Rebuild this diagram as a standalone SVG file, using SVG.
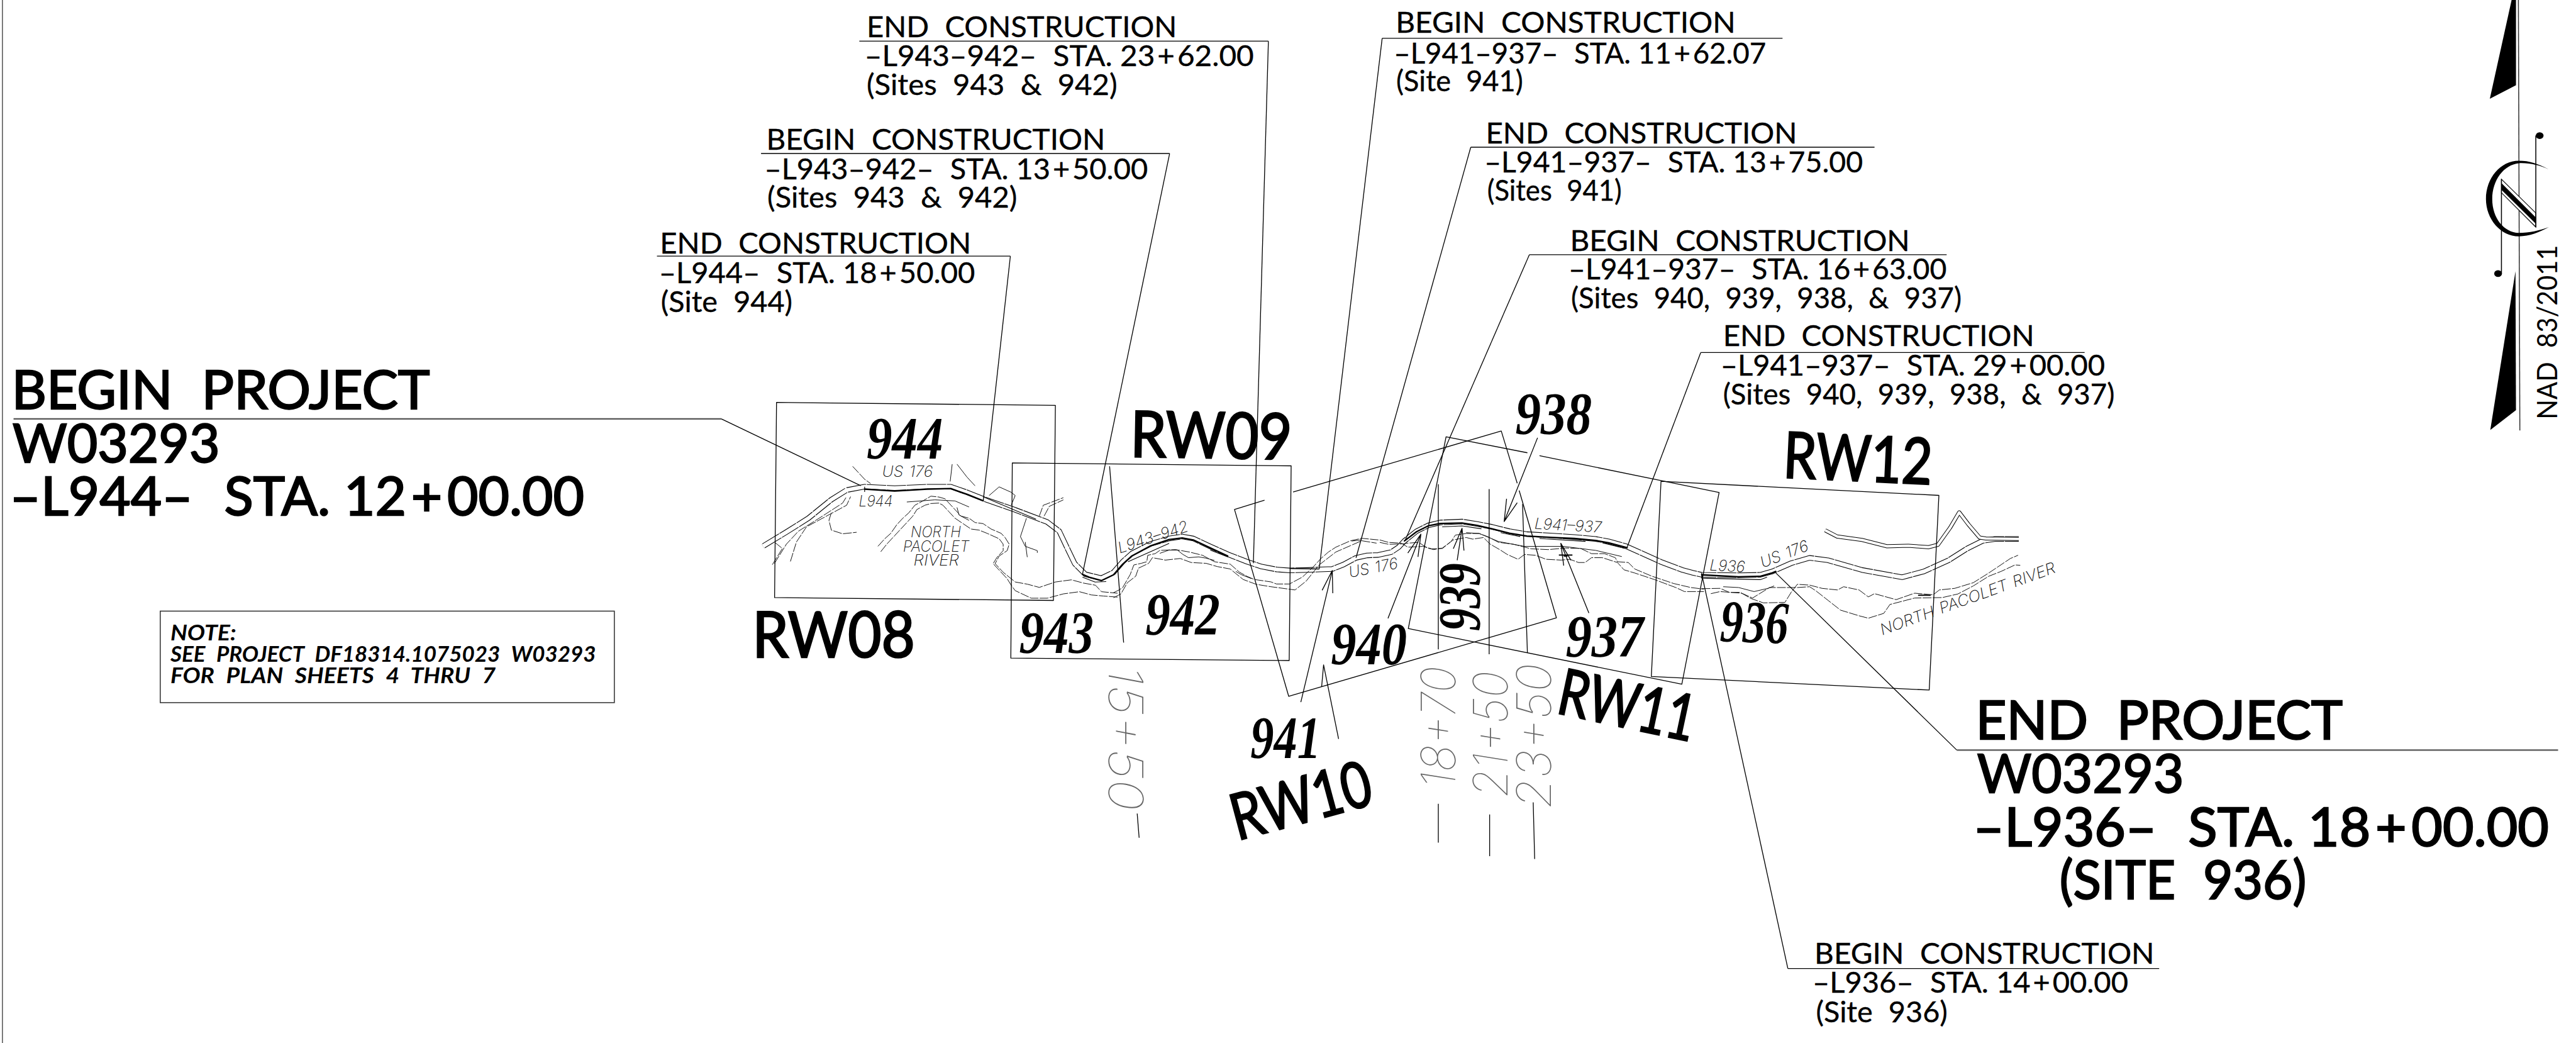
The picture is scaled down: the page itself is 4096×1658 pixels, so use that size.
<svg xmlns="http://www.w3.org/2000/svg" width="4096" height="1658" viewBox="0 0 4096 1658">
<style>
text{font-family:"Lato","Noto Sans",sans-serif;fill:#000;word-spacing:.28em}
.c{font-size:60px;stroke:#000;stroke-width:.5}
.b{font-size:110px;stroke:#000;stroke-width:3}
.x{word-spacing:0}
.rw{font-size:132px;stroke:#000;stroke-width:3.5}
.s{font-family:"Liberation Serif",serif;font-size:124px;font-weight:700;font-style:italic;word-spacing:0}
.n{font-size:44px;font-style:italic;font-weight:700}
.t{font-family:"Inter","Liberation Sans",sans-serif;font-size:32px;font-style:italic;font-weight:200;fill:#111;word-spacing:.1em}
.st{font-family:"Inter","Liberation Sans",sans-serif;font-size:98px;font-style:italic;font-weight:100;fill:#666}
.l{fill:none;stroke:#000;stroke-width:1.7;stroke-linejoin:round}
.h{fill:none;stroke:#555;stroke-width:3}
.v{fill:none;stroke:#111;stroke-width:1;stroke-linejoin:round;vector-effect:non-scaling-stroke}
.d{stroke-dasharray:14 2}
.thick{fill:none;stroke:#000;stroke-width:3;stroke-linejoin:round;stroke-linecap:round}
.thin{fill:none;stroke:#000;stroke-width:1.5;stroke-linejoin:round}
.f{fill:#000;stroke:none}
</style>
<defs>
<path id="road" d="M1576,1128L1624,1099L1670,1070L1717,1032L1749,1012L1786,1005L1848,1008L1915,1005L1964,1005L1998,1017L2031,1030L2097,1053L2163,1078L2188,1097L2205,1133L2220,1164L2242,1186L2275,1194L2300,1182L2319,1160L2338,1143L2377,1123L2415,1112L2442,1108L2465,1112L2499,1128L2537,1145L2576,1160L2606,1170L2637,1176L2664,1178L2702,1177L2725,1176L2752,1175L2775,1166L2801,1152L2824,1147L2847,1146L2874,1140L2889,1130L2901,1117L2926,1097L2950,1085L2975,1079L3020,1077L3051,1082L3082,1088L3118,1097L3154,1103L3207,1106L3252,1109L3296,1113L3323,1118L3359,1128L3386,1140L3430,1160L3475,1177L3497,1183L3515,1187L3591,1188L3636,1187L3661,1180L3700,1163L3738,1152L3776,1157L3846,1177L3929,1192L3974,1180L4025,1157L4063,1133L4095,1117L4121,1113L4170,1113"/>
<path id="road2" d="M3770,1095L3795,1108L3846,1115L3897,1128L3942,1127L3984,1130L4003,1125L4028,1090L4047,1058L4066,1083L4089,1110L4102,1112L4170,1113"/>
</defs>
<g transform="scale(.76978)">

<line x1="5" y1="0" x2="5" y2="2154" stroke="#555" stroke-width="2"/>

<g id="road-lines">
<use href="#road" fill="none" stroke="#000" stroke-width="11" stroke-linejoin="round"/>
<use href="#road" fill="none" stroke="#fff" stroke-width="8.2" stroke-linejoin="round"/>
<use href="#road" fill="none" stroke="#fff" stroke-width="13" stroke-dasharray="1.5 40"/>
<use href="#road2" fill="none" stroke="#000" stroke-width="8" stroke-linejoin="round"/>
<use href="#road2" fill="none" stroke="#fff" stroke-width="5.4" stroke-linejoin="round"/>
<path class="thick" d="M1786,1010L1848,1014L1915,1010L1964,1009L1998,1021L2031,1034"/>
<path class="thin" d="M1786,1005V1016M2031,1026L2140,1072"/>
<path class="thick" d="M2236,1186L2250,1192L2275,1199L2300,1187L2319,1165L2338,1148L2377,1127L2415,1114L2442,1111L2465,1115L2499,1131L2536,1148"/>
<path class="thin" d="M2236,1192L2262,1202L2285,1201M2330,1160L2415,1122M2500,1136L2536,1150"/>
<path class="thick" d="M2901,1117L2926,1098L2950,1086L2975,1081L3020,1080L3051,1085L3082,1092L3118,1101L3154,1107L3207,1110L3252,1112L3296,1116L3323,1121L3361,1131"/>
<path class="thin" d="M2979,1088L3020,1086L3060,1092M3100,1100L3140,1108M3180,1112L3275,1118M3310,1121L3355,1132"/>
<path class="thick" d="M3515,1187L3591,1191L3636,1190L3661,1183L3668,1180"/>
<path class="thin" d="M3515,1183V1194L3636,1197L3650,1192"/>
</g>

<g id="rivers">
<g transform="translate(1500,780) scale(.8292,.4464)">
<polyline class="v d" points="378,780 395,745 410,720 425,680 440,650 455,625 470,590 490,570 510,548 530,552 545,560 565,600 585,640 605,650 620,670 640,675 660,700 685,720 695,740 705,770 700,800 680,825 670,860 690,900 720,945 750,955 780,970 820,945 860,935 890,950 920,960 935,990 975,997"/>
<polyline class="v d" points="385,805 400,770 420,730 435,700 450,670 465,640 475,610 495,590 510,582 530,580 540,590 555,620 570,650 590,675 610,700 630,705 650,720 680,745 690,770 690,800 675,830 665,860 680,890 700,930 710,960 720,985 760,1020 800,1020 840,1000 880,990 910,1005 940,1010 975,1015"/>
<polyline class="v" points="450,575 520,565 570,570 605,598"/>
<polyline class="v" points="575,600 580,635 605,660"/>
<polyline class="v d" points="115,865 140,790 120,760"/>
<polyline class="v d" points="160,850 175,760 200,690 260,630 300,590 310,550"/>
<polyline class="v d" points="120,860 150,770 180,710 240,640 290,580 300,550"/>
<polyline class="v d" points="262,625 256,660 262,705 290,722 325,715"/>
<polyline class="v d" points="315,410 345,470 360,490"/>
<polyline class="v" points="563,400 558,480"/>
<polyline class="v" points="575,400 600,460 620,500"/>
<polyline class="v" points="655,545 680,505 710,530 720,545 710,590"/>
<polyline class="v d" points="780,640 790,590 840,555"/>
<polyline class="v d" points="792,640 805,595 840,565"/>
<polyline class="v" points="748,650 733,735 745,780 775,800 775,810"/>
<polyline class="v" points="745,760 750,830"/>
</g>
<g transform="translate(2300,1000) scale(.3827,.3333)">
<polyline class="v d" points="0,672 30,655 50,640 70,600 90,560 110,500 150,490 180,480 185,440 225,430 250,410 335,405 410,420 480,440 545,480 630,495 680,545 720,570 760,590 850,605 880,618 950,618 1020,575 1080,510 1120,460 1160,420 1200,390 1280,350 1340,335 1430,345"/>
<polyline class="v d" points="0,703 40,680 75,610 120,570 135,520 190,490 210,455 280,470 360,460 420,485 500,490 560,510 630,525 700,590 770,620 850,635 980,655 1040,600 1110,500 1200,420 1280,380 1340,350 1420,365"/>
<polyline class="v" points="250,428 300,408 345,408 375,435 405,455 460,450 500,458 545,472"/>
<polyline class="v" points="660,540 690,560 745,585" stroke-width="2"/>
<polyline class="v" points="1285,352 1340,345" stroke-width="2"/>
</g>
<g transform="translate(2850,1020) scale(.4464,.3333)">
<polyline class="v d" points="0,285 40,300 100,305 130,330 200,325 240,340 290,338 330,295 350,255 400,245 460,245 500,265 550,300 620,312 700,340 780,345 860,335 930,338 980,370 1040,370 1090,395 1100,420 1150,425 1180,465 1260,510 1360,555 1440,580 1500,590"/>
<polyline class="v d" points="0,300 40,312 100,310 130,305 180,300 220,335 250,345 290,335 340,285 400,270 430,280 480,270 510,310 555,345 590,375 640,405 670,375 720,380 770,405 840,410 880,405 920,425 950,425 980,395 1030,395 1100,425 1130,470 1180,490 1270,530 1370,580 1410,605 1500,605"/>
<polyline class="v" points="400,240 460,245 550,295 670,325 850,325 1000,350 1120,388"/>
</g>
<g transform="translate(3400,950) scale(.6378,.3333)">
<polyline class="v d" points="180,797 240,795 270,820 305,820 340,858 380,885 450,882 470,820 490,770 530,775 570,795 620,805 640,785 690,805 720,848 740,828 810,865 870,825 930,835 950,805 1000,795 1060,760 1110,700 1180,610 1205,590"/>
<polyline class="v d" points="210,828 240,815 310,825 345,855 400,790 450,790 490,790 530,785 550,810 590,870 630,930 690,965 720,980 770,950 790,895 870,855 960,852 1010,830 1060,780 1110,720 1150,690 1195,650 1212,652"/>
<polyline class="v" points="250,785 300,790 350,815 395,795 415,780"/>
</g>
<rect class="f" x="3220" y="1145" width="28" height="2.5"/>
<rect class="f" x="3230" y="1147" width="8" height="2.5"/>
<rect class="f" x="3962" y="1228" width="26" height="2.5"/>
</g>

<g id="road-labels">
<text class="t" x="1822" y="985" textLength="105" lengthAdjust="spacingAndGlyphs">US 176</text>
<text class="t" x="1774" y="1046" textLength="70" lengthAdjust="spacingAndGlyphs">L944</text>
<text class="t" x="1881" y="1110" textLength="104" lengthAdjust="spacingAndGlyphs">NORTH</text>
<text class="t" x="1865" y="1139" textLength="137" lengthAdjust="spacingAndGlyphs">PACOLET</text>
<text class="t" x="1887" y="1168" textLength="94" lengthAdjust="spacingAndGlyphs">RIVER</text>
<text class="t" x="2313" y="1143" textLength="151" lengthAdjust="spacingAndGlyphs" transform="rotate(-18 2313 1143)">L943–942</text>
<text class="t" x="2788" y="1193" textLength="103" lengthAdjust="spacingAndGlyphs" transform="rotate(-11 2788 1193)">US 176</text>
<text class="t" x="3169" y="1092" textLength="139" lengthAdjust="spacingAndGlyphs" transform="rotate(3.3 3169 1092)">L941–937</text>
<text class="t" x="3531" y="1178" textLength="73" lengthAdjust="spacingAndGlyphs" transform="rotate(3 3531 1178)">L936</text>
<text class="t" x="3641" y="1173" textLength="104" lengthAdjust="spacingAndGlyphs" transform="rotate(-21 3641 1173)">US 176</text>
<text class="t" x="3888" y="1312" textLength="383" lengthAdjust="spacingAndGlyphs" transform="rotate(-19.9 3888 1312)">NORTH PACOLET RIVER</text>
<text class="st" x="3006" y="1628" textLength="252" lengthAdjust="spacingAndGlyphs" transform="rotate(-90 3006 1628)">18+70</text>
<text class="st" x="3114" y="1647" textLength="261" lengthAdjust="spacingAndGlyphs" transform="rotate(-90 3114 1647)">21+50</text>
<text class="st" x="3203" y="1670" textLength="300" lengthAdjust="spacingAndGlyphs" transform="rotate(-90 3203 1670)">23+50</text>
<text class="st" x="2290" y="1374" textLength="300" lengthAdjust="spacingAndGlyphs" transform="rotate(90 2290 1374)">15+50</text>
</g>

<g id="connectors">
<path class="l" d="M1604,831L2180,837L2176,1240L1600,1234Z"/>
<path class="l" d="M2091,956L2667,962L2663,1364L2088,1359Z"/>
<path class="l" d="M2612,1033L2550,1052L2662,1438L3215,1276L3138,1013M3134,998L3101,890L2671,1016"/>
<path class="l" d="M3155,935L2987,902L2909,1298L3474,1413L3551,1017L3180,941"/>
<path class="l" d="M3431,994L4005,1023L3985,1425L3411,1397Z"/>
<path class="l" d="M1490,865L1778,1003"/>
<path class="l" d="M4042,1549L3668,1183"/>
<path class="l" d="M3693,2000L3515,1185"/>
<path class="l" d="M2620,85L2589,1163"/>
<path class="l" d="M2416,317L2236,1186"/>
<path class="l" d="M2087,529L2031,1034"/>
<path class="l" d="M2855,79L2725,1175"/>
<path class="l" d="M3038,304L2801,1152"/>
<path class="l" d="M3159,526L2902,1117"/>
<path class="l" d="M3513,728L3361,1130"/>
<path class="l" d="M3176,904L3107,1077L3112,1030M3107,1077L3134,1038"/>
<path class="l" d="M3282,1266L3224,1122L3230,1168M3224,1122L3245,1157"/>
<path class="l" d="M3010,1157L3020,1091L3002,1133M3020,1091L3024,1137"/>
<path class="l" d="M2867,1277L2935,1103L2908,1142M2935,1103L2929,1150"/>
<path class="l" d="M2687,1450L2752,1178L2731,1219M2752,1178L2753,1225"/>
<path class="l" d="M2765,1526L2734,1373L2730,1418"/>
<path class="l" d="M2292,963L2321,1327M2349,1680L2353,1730"/>
<path class="l" d="M2971,1000V1341M2971,1660V1740"/>
<path class="l" d="M3076,1010V1351M3077,1682V1768"/>
<path class="l" d="M3145,1041L3155,1348M3167,1657L3170,1774"/>
<path class="l" d="M2664,1174L2725,1175"/>
<path class="h" d="M28,865H1490"/>
<path class="h" d="M4042,1549H5284"/>
<path class="l" d="M3693,2000H4460"/>
<path class="l" d="M1775,85H2620"/>
<path class="l" d="M1572,317H2416"/>
<path class="l" d="M1357,529H2087"/>
<path class="l" d="M2855,79H3682"/>
<path class="l" d="M3038,304H3872"/>
<path class="l" d="M3159,526H4021"/>
<path class="l" d="M3513,728H4306"/>
</g>

<g id="begin-project">
<text class="b" x="24" y="844" textLength="864" lengthAdjust="spacingAndGlyphs">BEGIN PROJECT</text>
<text class="b" x="26" y="955" textLength="428" lengthAdjust="spacingAndGlyphs">W03293</text>
<text class="b x" x="20" y="1064" textLength="1187" lengthAdjust="spacingAndGlyphs">–L944–<tspan dx="36"> STA. 12</tspan><tspan dx="10">+</tspan><tspan dx="10">00.00</tspan></text>
</g>
<g id="end-project">
<text class="b" x="4081" y="1527" textLength="758" lengthAdjust="spacingAndGlyphs">END PROJECT</text>
<text class="b" x="4084" y="1637" textLength="427" lengthAdjust="spacingAndGlyphs">W03293</text>
<text class="b x" x="4076" y="1747" textLength="1189" lengthAdjust="spacingAndGlyphs">–L936–<tspan dx="36"> STA. 18</tspan><tspan dx="10">+</tspan><tspan dx="10">00.00</tspan></text>
<text class="b" x="4254" y="1856" textLength="510" lengthAdjust="spacingAndGlyphs">(SITE 936)</text>
</g>
<g id="label-end-l944">
<text class="c" x="1363" y="523" textLength="643" lengthAdjust="spacingAndGlyphs">END CONSTRUCTION</text>
<text class="c x" x="1361" y="584" textLength="653" lengthAdjust="spacingAndGlyphs">–L944–<tspan dx="18"> STA. 18</tspan><tspan dx="5">+</tspan><tspan dx="5">50.00</tspan></text>
<text class="c" x="1365" y="644" textLength="272" lengthAdjust="spacingAndGlyphs">(Site 944)</text>
</g>
<g id="label-begin-l943">
<text class="c" x="1583" y="309" textLength="700" lengthAdjust="spacingAndGlyphs">BEGIN CONSTRUCTION</text>
<text class="c x" x="1579" y="370" textLength="792" lengthAdjust="spacingAndGlyphs">–L943–942–<tspan dx="18"> STA. 13</tspan><tspan dx="5">+</tspan><tspan dx="5">50.00</tspan></text>
<text class="c" x="1585" y="429" textLength="516" lengthAdjust="spacingAndGlyphs">(Sites 943 &amp; 942)</text>
</g>
<g id="label-end-l943">
<text class="c" x="1790" y="76" textLength="641" lengthAdjust="spacingAndGlyphs">END CONSTRUCTION</text>
<text class="c x" x="1786" y="136" textLength="804" lengthAdjust="spacingAndGlyphs">–L943–942–<tspan dx="18"> STA. 23</tspan><tspan dx="5">+</tspan><tspan dx="5">62.00</tspan></text>
<text class="c" x="1790" y="196" textLength="518" lengthAdjust="spacingAndGlyphs">(Sites 943 &amp; 942)</text>
</g>
<g id="label-begin-941">
<text class="c" x="2883" y="68" textLength="702" lengthAdjust="spacingAndGlyphs">BEGIN CONSTRUCTION</text>
<text class="c x" x="2879" y="131" textLength="769" lengthAdjust="spacingAndGlyphs">–L941–937–<tspan dx="18"> STA. 11</tspan><tspan dx="5">+</tspan><tspan dx="5">62.07</tspan></text>
<text class="c" x="2884" y="188" textLength="262" lengthAdjust="spacingAndGlyphs">(Site 941)</text>
</g>
<g id="label-end-941">
<text class="c" x="3069" y="296" textLength="643" lengthAdjust="spacingAndGlyphs">END CONSTRUCTION</text>
<text class="c x" x="3066" y="356" textLength="782" lengthAdjust="spacingAndGlyphs">–L941–937–<tspan dx="18"> STA. 13</tspan><tspan dx="5">+</tspan><tspan dx="5">75.00</tspan></text>
<text class="c" x="3072" y="415" textLength="278" lengthAdjust="spacingAndGlyphs">(Sites 941)</text>
</g>
<g id="label-begin-940">
<text class="c" x="3243" y="518" textLength="702" lengthAdjust="spacingAndGlyphs">BEGIN CONSTRUCTION</text>
<text class="c x" x="3240" y="577" textLength="781" lengthAdjust="spacingAndGlyphs">–L941–937–<tspan dx="18"> STA. 16</tspan><tspan dx="5">+</tspan><tspan dx="5">63.00</tspan></text>
<text class="c" x="3245" y="637" textLength="807" lengthAdjust="spacingAndGlyphs">(Sites 940, 939, 938, &amp; 937)</text>
</g>
<g id="label-end-937">
<text class="c" x="3559" y="715" textLength="643" lengthAdjust="spacingAndGlyphs">END CONSTRUCTION</text>
<text class="c x" x="3554" y="776" textLength="794" lengthAdjust="spacingAndGlyphs">–L941–937–<tspan dx="18"> STA. 29</tspan><tspan dx="5">+</tspan><tspan dx="5">00.00</tspan></text>
<text class="c" x="3559" y="835" textLength="809" lengthAdjust="spacingAndGlyphs">(Sites 940, 939, 938, &amp; 937)</text>
</g>
<g id="label-begin-936">
<text class="c" x="3748" y="1990" textLength="702" lengthAdjust="spacingAndGlyphs">BEGIN CONSTRUCTION</text>
<text class="c x" x="3744" y="2050" textLength="652" lengthAdjust="spacingAndGlyphs">–L936–<tspan dx="18"> STA. 14</tspan><tspan dx="5">+</tspan><tspan dx="5">00.00</tspan></text>
<text class="c" x="3751" y="2111" textLength="272" lengthAdjust="spacingAndGlyphs">(Site 936)</text>
</g>

<g id="sites">
<text class="s" x="1790" y="947" textLength="158" lengthAdjust="spacingAndGlyphs">944</text>
<text class="s" x="2105" y="1349" textLength="154" lengthAdjust="spacingAndGlyphs">943</text>
<text class="s" x="2366" y="1311" textLength="154" lengthAdjust="spacingAndGlyphs">942</text>
<text class="s" x="3130" y="897" textLength="158" lengthAdjust="spacingAndGlyphs">938</text>
<text class="s" x="3057" y="1303" textLength="140" lengthAdjust="spacingAndGlyphs" transform="rotate(-90 3057 1303)">939</text>
<text class="s" x="2749" y="1372" textLength="157" lengthAdjust="spacingAndGlyphs">940</text>
<text class="s" x="3234" y="1356" textLength="161" lengthAdjust="spacingAndGlyphs">937</text>
<text class="s" x="2583" y="1566" textLength="145" lengthAdjust="spacingAndGlyphs">941</text>
<text class="s" x="3552" y="1324" textLength="141" lengthAdjust="spacingAndGlyphs" transform="rotate(2 3552 1324)">936</text>
</g>
<g id="rw-labels">
<text class="rw" x="1554" y="1358" textLength="336" lengthAdjust="spacingAndGlyphs">RW08</text>
<text class="rw" x="2334" y="943" textLength="334" lengthAdjust="spacingAndGlyphs" transform="rotate(1 2334 943)">RW09</text>
<text class="rw" x="2556" y="1736" textLength="296" lengthAdjust="spacingAndGlyphs" transform="rotate(-15 2556 1736)">RW10</text>
<text class="rw" x="3212" y="1472" textLength="286" lengthAdjust="spacingAndGlyphs" transform="rotate(12 3212 1472)">RW11</text>
<text class="rw" x="3682" y="986" textLength="308" lengthAdjust="spacingAndGlyphs" transform="rotate(2.7 3682 986)">RW12</text>
</g>

<g id="note">
<rect x="331" y="1262" width="938" height="189" fill="none" stroke="#333" stroke-width="2"/>
<text class="n" x="352" y="1322" textLength="136" lengthAdjust="spacingAndGlyphs">NOTE:</text>
<text class="n" x="352" y="1366" textLength="879" lengthAdjust="spacingAndGlyphs">SEE PROJECT DF18314.1075023 W03293</text>
<text class="n" x="352" y="1411" textLength="672" lengthAdjust="spacingAndGlyphs">FOR PLAN SHEETS 4 THRU 7</text>
</g>

<g id="north-arrow">
<path class="f" d="M5188,0H5197V176L5143,204Z"/>
<path class="f" d="M5196,560L5197,847L5144,888Z"/>
<line x1="5202" y1="0" x2="5205" y2="889" stroke="#333" stroke-width="2"/>
<path class="f" d="M5265,350C5242,338 5225,332 5203,332C5165,332 5135,368 5135,411C5135,452 5165,488 5203,488C5225,488 5245,480 5265,469C5245,476 5225,481 5203,481C5172,480 5148,450 5148,411C5148,372 5172,340 5203,337C5225,336 5245,341 5265,350Z"/>
<path d="M5167,370L5238,440V469L5167,398Z" fill="#fff" stroke="#000" stroke-width="1.5"/>
<path class="f" d="M5167,378L5238,449V462L5167,392Z"/>
<line x1="5167" y1="370" x2="5167" y2="566" stroke="#000" stroke-width="2"/>
<line x1="5238" y1="280" x2="5238" y2="469" stroke="#000" stroke-width="2"/>
<ellipse class="f" cx="5160" cy="565" rx="8" ry="7"/>
<ellipse class="f" cx="5246" cy="280" rx="8" ry="7"/>
<text x="5282" y="866" font-size="57" textLength="360" lengthAdjust="spacingAndGlyphs" transform="rotate(-90 5282 866)">NAD 83/2011</text>
</g>
</g>
</svg>
